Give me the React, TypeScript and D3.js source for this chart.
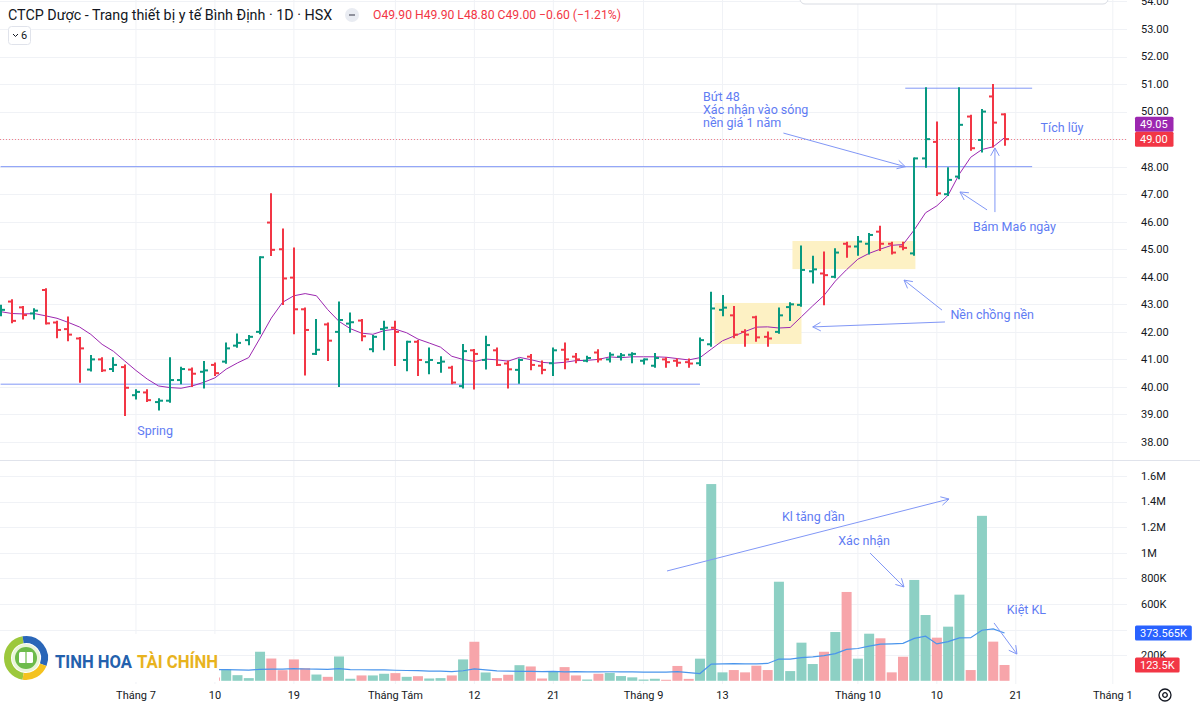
import React from "react";
import * as d3 from "d3";

// ---------- DATA ----------
const opens = [42.7, 43.1, 42.89, 42.67, 43.52, 42.34, 42.1, 41.76, 40.63, 41.0, 40.65, 40.72, 39.7, 39.8, 39.45, 39.5, 40.25, 40.63, 40.55, 40.8,
  40.92, 41.5, 41.7, 42.0, 45.97, 45.0, 43.97, 42.82, 41.2, 42.27, 42.0, 42.3, 42.41, 41.37, 42.1, 42.15, 40.98, 41.64, 40.9, 40.87,
  40.7, 40.03, 41.33, 40.98, 41.33, 40.85, 40.62, 41.1, 40.77, 40.86, 41.35, 41.1, 40.95, 41.25, 41.0, 41.1, 41.17, 40.95, 40.77, 41.0,
  40.95, 40.9, 40.86, 41.55, 42.8, 42.6, 42.0, 42.53, 41.82, 42.0, 42.9, 42.98, 44.2, 44.12, 44.0, 45.2, 45.1, 45.2, 45.64, 45.2,
  45.1, 44.85, 48.3, 48.9, 47.0, 47.64, 49.82, 48.97, 50.55, 49.9];
const highs = [42.95, 43.15, 42.9, 42.82, 43.55, 42.37, 42.52, 41.78, 41.12, 41.04, 41.04, 40.78, 39.88, 39.88, 39.55, 41.04, 40.7, 40.67, 40.91, 40.85,
  41.58, 41.9, 41.85, 44.71, 47.0, 45.72, 45.03, 42.85, 42.43, 42.3, 43.07, 42.67, 42.43, 41.85, 42.37, 42.37, 41.64, 41.67, 41.4, 41.08,
  40.73, 41.52, 41.34, 41.82, 41.4, 40.92, 41.0, 41.16, 40.92, 41.4, 41.58, 41.2, 41.1, 41.33, 41.22, 41.2, 41.22, 41.0, 41.2, 41.04,
  41.0, 41.0, 41.76, 43.42, 43.3, 42.9, 42.06, 42.55, 41.98, 42.85, 43.04, 45.1, 44.73, 44.88, 45.0, 45.24, 45.45, 45.55, 45.82, 45.24,
  45.24, 48.3, 50.85, 49.6, 47.94, 50.85, 49.85, 50.06, 50.97, 49.9];
const lows = [42.6, 42.35, 42.49, 42.49, 42.3, 41.8, 41.7, 40.19, 40.6, 40.58, 40.58, 38.98, 39.58, 39.49, 39.18, 39.46, 40.13, 40.03, 39.98, 40.43,
  40.88, 41.46, 41.55, 41.95, 44.79, 43.01, 41.95, 40.45, 41.2, 40.98, 40.03, 42.0, 41.7, 41.3, 41.37, 40.8, 40.61, 40.43, 40.5, 40.55,
  40.13, 39.98, 39.94, 40.67, 40.8, 39.98, 40.15, 40.64, 40.5, 40.43, 40.68, 40.9, 40.93, 40.92, 40.92, 41.0, 40.9, 40.85, 40.73, 40.73,
  40.77, 40.73, 40.8, 41.5, 42.6, 41.8, 41.5, 41.68, 41.5, 41.97, 42.43, 42.95, 43.79, 43.0, 43.98, 44.73, 44.8, 44.85, 44.97, 44.85,
  45.0, 44.8, 48.0, 46.97, 46.97, 47.58, 48.61, 48.55, 48.73, 48.8];
const closes = [42.8, 42.4, 42.61, 42.77, 42.31, 42.07, 41.9, 41.4, 41.0, 40.6, 40.8, 39.97, 39.82, 39.52, 39.5, 40.25, 40.65, 40.48, 40.6, 40.5,
  41.4, 41.6, 41.82, 44.71, 44.98, 43.94, 42.82, 42.07, 41.35, 41.68, 42.43, 42.35, 41.84, 41.82, 42.15, 42.0, 41.64, 40.98, 40.98, 40.92,
  40.16, 41.3, 41.2, 41.52, 40.8, 40.64, 40.98, 40.8, 40.62, 41.33, 41.0, 41.0, 41.05, 41.0, 41.17, 41.15, 41.2, 41.0, 41.05, 40.9,
  40.88, 40.85, 41.7, 42.85, 42.88, 41.9, 41.9, 41.8, 41.76, 42.6, 43.0, 44.25, 44.27, 44.06, 44.88, 45.1, 45.28, 45.52, 45.2, 44.88,
  45.05, 48.3, 49.0, 47.03, 47.52, 49.52, 48.67, 50.0, 49.6, 49.0];
// closes before the first visible bar (needed only for the 6-day MA)
const priorCloses = [42.8, 42.7, 42.7, 42.8, 42.6];
// volume in thousands of shares (bars 0-18 sit under the logo)
const volumesK = [95, 80, 70, 110, 150, 85, 90, 140, 75, 60, 70, 180, 65, 55, 60, 120, 70, 65, 95, 26,
  91, 44, 21, 227, 174, 83, 167, 99, 49, 31, 190, 16, 42, 42, 55, 60, 31, 36, 18, 21,
  42, 167, 305, 65, 21, 47, 122, 112, 18, 75, 107, 42, 10, 55, 62, 37, 27, 10, 16, 8,
  116, 15, 173, 1537, 66, 84, 66, 118, 84, 774, 76, 298, 131, 227, 381, 694, 173, 368, 332, 66,
  188, 788, 514, 337, 423, 673, 84, 1288.8, 306, 123.5];

const priceTicks = [38, 39, 40, 41, 42, 43, 44, 45, 46, 47, 48, 49, 50, 51, 52, 53, 54];
// 400K is hidden behind the volume-MA label in the reference, so it is not listed
const volumeTicks = [200, 600, 800, 1000, 1200, 1400, 1600];
const volumeTickLabels = ["200K", "600K", "800K", "1M", "1.2M", "1.4M", "1.6M"];
const volumeGrid = [200, 400, 600, 800, 1000, 1200, 1400, 1600];
const dateLabels = ["Tháng 7", "10", "19", "Tháng Tám", "12", "21", "Tháng 9", "13", "Tháng 10", "10", "21", "Tháng 1"];
const dateLabelBar = [12, 19, 26, 35, 42, 49, 57, 64, 76, 83, 90, 98.6];

const title = "CTCP Dược - Trang thiết bị y tế Bình Định · 1D · HSX";

// drawn horizontal levels: [price, fromBar, toBar]
const levelPrices = [40.1, 48.0, 50.85];
const levelFrom = [0, 0, 80.2];
const levelTo = [62, 91.45, 91.45];

// highlighted zones: bar range and price range
const zoneBars = [[63.3, 71.0], [70.2, 81.1]];
const zonePrices = [[41.56, 43.05], [44.28, 45.3]];

const UP = "#089981";
const DOWN = "#f23645";
const UP_VOL = "#8dd0c4";
const DOWN_VOL = "#f7a5aa";
const ANN = "#5f7cf3";
const ANN_LINE = "#8197f6";
const FONT = "Roboto, 'Noto Sans', 'DejaVu Sans', sans-serif";

function Arrow({ x1, y1, x2, y2 }: { x1: number; y1: number; x2: number; y2: number }) {
  const a = Math.atan2(y2 - y1, x2 - x1);
  const L = 9;
  const s = 0.5;
  const p1 = [x2 - L * Math.cos(a - s), y2 - L * Math.sin(a - s)];
  const p2 = [x2 - L * Math.cos(a + s), y2 - L * Math.sin(a + s)];
  return (
    <g stroke={ANN_LINE} strokeWidth={1} fill="none">
      <line x1={x1} y1={y1} x2={x2} y2={y2} />
      <polyline points={`${p1[0]},${p1[1]} ${x2},${y2} ${p2[0]},${p2[1]}`} />
    </g>
  );
}

export default function App() {
  const W = 1200;
  const H = 704;
  const plotRight = 1127;
  const step = 11.28;
  const x = d3.scaleLinear().domain([0, 89]).range([0.6, 0.6 + 89 * step]);
  const yP = d3.scaleLinear().domain([38, 53]).range([442, 29]);
  const yV = d3.scaleLinear().domain([0, 1600]).range([680.8, 476]);

  const full = [...priorCloses, ...closes];
  const ma6 = closes.map((_, i) => d3.mean(full.slice(i, i + 6)) as number);
  const volMa = volumesK.map((_, i) => (i < 19 ? NaN : (d3.mean(volumesK.slice(i - 19, i + 1)) as number)));

  const maLine = d3.line<number>().x((_, i) => x(i)).y((d) => yP(d)).curve(d3.curveLinear)(ma6) || "";
  const volMaLine =
    d3
      .line<number>()
      .defined((d) => !isNaN(d))
      .x((_, i) => x(i))
      .y((d) => yV(d))(volMa) || "";

  const last = closes.length - 1;
  const lastClose = closes[last];
  const lastMa = ma6[last];
  const lastVol = volumesK[last];
  const lastVolMa = volMa[last];
  const lastUp = closes[last] >= opens[last];
  const chg = closes[last] - closes[last - 1];
  const chgPct = (chg / closes[last - 1]) * 100;
  const fmt = (v: number) => v.toFixed(2);
  const minus = (v: number) => (v < 0 ? "−" + Math.abs(v).toFixed(2) : "+" + v.toFixed(2));

  const barW = 10;
  const tick = 4;

  const gridColor = "#f0f2f6";

  const fmtK = (v: number) => {
    const s = v.toFixed(3).replace(/0+$/, "").replace(/\.$/, "");
    return s + "K";
  };

  const axisX = 1141;

  const Label = ({ y, text, fill }: { y: number; text: string; fill: string }) => {
    const w = text.length * 6.1 + 8;
    return (
      <g>
        <rect x={1135} y={y - 7.5} width={w} height={15} fill={fill} rx={1.5} />
        <text x={1135 + 5} y={y} dy="0.35em" fill="#fff" fontSize={11} fontFamily={FONT}>
          {text}
        </text>
      </g>
    );
  };

  const P = (bar: number, price: number) => [x(bar), yP(price)];
  const V = (bar: number, vol: number) => [x(bar), yV(vol)];

  const priceArrows = [
    [P(69.4, 49.22), P(80.2, 48.0)],
    [P(87.45, 46.43), P(85.05, 47.08)],
    [P(88.15, 46.35), P(88.15, 48.68)],
    [P(83.72, 42.36), P(72.0, 42.18)],
    [P(83.46, 42.79), P(80.09, 43.88)],
  ];
  const volArrows = [
    [V(59.08, 858), V(84.08, 1420)],
    [V(77.08, 998), V(80.09, 733)],
    [V(88.07, 452), V(90.1, 209)],
  ];

  return (
    <svg
      width={W}
      height={H}
      viewBox={`0 0 ${W} ${H}`}
      style={{ position: "fixed", left: 0, top: 0, background: "#fff" }}
      fontFamily={FONT}
    >
      <defs>
        <clipPath id="pricePane">
          <rect x={0} y={0} width={plotRight} height={460} />
        </clipPath>
        <clipPath id="volPane">
          <rect x={0} y={461} width={plotRight} height={223} />
        </clipPath>
      </defs>
      <rect x={0} y={0} width={W} height={H} fill="#fff" />

      {/* vertical grid */}
      {dateLabelBar.map((b, i) => (
        <line key={"vg" + i} x1={x(b)} x2={x(b)} y1={0} y2={684} stroke={gridColor} strokeWidth={1} />
      ))}
      {/* horizontal price grid */}
      {priceTicks.map((p) => (
        <line key={"hg" + p} x1={0} x2={plotRight} y1={Math.round(yP(p)) + 0.5} y2={Math.round(yP(p)) + 0.5} stroke={gridColor} />
      ))}
      {volumeGrid.map((v) => (
        <line key={"vgv" + v} x1={0} x2={plotRight} y1={Math.round(yV(v)) + 0.5} y2={Math.round(yV(v)) + 0.5} stroke={gridColor} />
      ))}

      {/* pane separator */}
      <line x1={0} x2={W} y1={460.5} y2={460.5} stroke="#e0e3eb" strokeWidth={1} />

      {/* popup edge at top right */}
      <rect x={800} y={-20} width={308} height={24} rx={5} fill="#fff" stroke="#d9dce3" />

      <g clipPath="url(#pricePane)">
        {/* zones */}
        {zoneBars.map((zb, i) => (
          <rect
            key={"z" + i}
            x={x(zb[0])}
            y={yP(zonePrices[i][1])}
            width={x(zb[1]) - x(zb[0])}
            height={yP(zonePrices[i][0]) - yP(zonePrices[i][1])}
            fill="#fdf1c4"
          />
        ))}
        {/* levels */}
        {levelPrices.map((p, i) => (
          <line
            key={"lv" + i}
            x1={x(levelFrom[i])}
            x2={x(levelTo[i])}
            y1={yP(p)}
            y2={yP(p)}
            stroke={ANN_LINE}
            strokeWidth={1}
          />
        ))}
        {/* last price line */}
        <line
          x1={0}
          x2={plotRight}
          y1={Math.round(yP(lastClose)) + 0.5}
          y2={Math.round(yP(lastClose)) + 0.5}
          stroke={DOWN}
          strokeWidth={1}
          strokeDasharray="1 2"
          opacity={0.6}
        />
        {/* MA6 */}
        <path d={maLine} fill="none" stroke="#9c27b0" strokeWidth={1} />
        {/* OHLC bars */}
        {closes.map((c, i) => {
          const col = c >= opens[i] ? UP : DOWN;
          const cx = Math.round(x(i));
          return (
            <g key={"b" + i} stroke={col} strokeWidth={2}>
              <line x1={cx} x2={cx} y1={yP(highs[i]) - 1} y2={yP(lows[i]) + 1} />
              <line x1={cx - tick} x2={cx} y1={yP(opens[i])} y2={yP(opens[i])} />
              <line x1={cx} x2={cx + tick} y1={yP(c)} y2={yP(c)} />
            </g>
          );
        })}
        {/* annotations */}
        {priceArrows.map((a, i) => (
          <Arrow key={"pa" + i} x1={a[0][0]} y1={a[0][1]} x2={a[1][0]} y2={a[1][1]} />
        ))}
        <g fill={ANN} fontSize={12.5}>
          <text x={x(13.7)} y={yP(38.4)} dy="0.35em" textAnchor="middle">Spring</text>
          <text x={x(62.27)} y={yP(50.53)} dy="0.35em">Bứt 48</text>
          <text x={x(62.27)} y={yP(50.06)} dy="0.35em">Xác nhận vào sóng</text>
          <text x={x(62.27)} y={yP(49.59)} dy="0.35em">nền giá 1 năm</text>
          <text x={x(92.2)} y={yP(49.4)} dy="0.35em">Tích lũy</text>
          <text x={x(86.2)} y={yP(45.81)} dy="0.35em">Bám Ma6 ngày</text>
          <text x={x(84.2)} y={yP(42.61)} dy="0.35em">Nền chồng nền</text>
        </g>
      </g>

      <g clipPath="url(#volPane)">
        {volumesK.map((v, i) => (
          <rect
            key={"v" + i}
            x={x(i) - barW / 2}
            y={yV(v)}
            width={barW}
            height={yV(0) - yV(v)}
            fill={closes[i] >= opens[i] ? UP_VOL : DOWN_VOL}
          />
        ))}
        <path d={volMaLine} fill="none" stroke="#4a95ec" strokeWidth={1.2} />
        {volArrows.map((a, i) => (
          <Arrow key={"va" + i} x1={a[0][0]} y1={a[0][1]} x2={a[1][0]} y2={a[1][1]} />
        ))}
        <g fill={ANN} fontSize={12.5}>
          <text x={x(69.27)} y={yV(1280)} dy="0.35em">Kl tăng dần</text>
          <text x={x(74.26)} y={yV(1096)} dy="0.35em">Xác nhận</text>
          <text x={x(89.2)} y={yV(558)} dy="0.35em">Kiệt KL</text>
        </g>
      </g>

      {/* logo */}
      <rect x={0} y={634} width={219} height={48} fill="#fff" />
      <g transform="translate(26,658)">
        <path d={d3.arc()({ innerRadius: 15, outerRadius: 22, startAngle: -Math.PI * 0.95, endAngle: -Math.PI * 0.05 }) || ""} fill="#9cc83c" />
        <path d={d3.arc()({ innerRadius: 15, outerRadius: 22, startAngle: -Math.PI * 0.05, endAngle: Math.PI * 0.62 }) || ""} fill="#2a66b8" />
        <path d={d3.arc()({ innerRadius: 15, outerRadius: 22, startAngle: Math.PI * 0.62, endAngle: Math.PI * 1.05 }) || ""} fill="#f4c21f" />
        <circle r={14} fill="#eaf5d9" />
        <circle r={11} fill="#6dbb4a" />
        <rect x={-7} y={-6} width={14} height={11} rx={1.5} fill="#fff" />
        <line x1={0} x2={0} y1={-6} y2={5} stroke="#6dbb4a" strokeWidth={1.2} />
      </g>
      <text x={55} y={668} fontSize={19} fontWeight={700} fill="#2461ad" textLength={77} lengthAdjust="spacingAndGlyphs">
        TINH HOA
      </text>
      <text x={137} y={668} fontSize={19} fontWeight={700} fill="#e8b31e" textLength={81} lengthAdjust="spacingAndGlyphs">
        TÀI CHÍNH
      </text>

      {/* right price axis */}
      <g fontSize={11} fill="#131722">
        {priceTicks.map((p) => (
          <text key={"pt" + p} x={axisX} y={yP(p)} dy="0.35em">
            {p.toFixed(2)}
          </text>
        ))}
        {volumeTicks.map((v, i) => (
          <text key={"vt" + v} x={axisX} y={yV(v)} dy="0.35em">
            {volumeTickLabels[i]}
          </text>
        ))}
      </g>
      <Label y={yP(lastClose) - 15} text={fmt(lastMa)} fill="#9c27b0" />
      <Label y={yP(lastClose)} text={fmt(lastClose)} fill={lastUp ? UP : DOWN} />
      <Label y={yV(lastVolMa)} text={fmtK(lastVolMa)} fill="#2962ff" />
      <Label y={yV(lastVol)} text={fmtK(lastVol)} fill={lastUp ? UP : DOWN} />

      {/* time axis */}
      <g fontSize={11} fill="#131722">
        {dateLabels.map((d, i) => (
          <text key={"d" + i} x={x(dateLabelBar[i])} y={695} dy="0.35em" textAnchor="middle">
            {d}
          </text>
        ))}
      </g>
      <g transform="translate(1165,695)" fill="none" stroke="#131722" strokeWidth={1.3}>
        <circle r={6} />
        <circle r={2.3} />
      </g>

      {/* header */}
      <text x={8} y={15} dy="0.35em" fontSize={14.3} fill="#131722">
        {title}
      </text>
      <circle cx={352} cy={15} r={7} fill="#e9ecf2" />
      <line x1={349} x2={355} y1={15} y2={15} stroke="#787b86" strokeWidth={1.6} />
      <text x={373} y={15} dy="0.35em" fontSize={12.2} fill={DOWN}>
        {`O${fmt(opens[last])} H${fmt(highs[last])} L${fmt(lows[last])} C${fmt(closes[last])} ${minus(chg)} (${minus(chgPct)}%)`}
      </text>
      <rect x={8.5} y={26.5} width={22} height={18} rx={3} fill="#fff" stroke="#e0e3eb" />
      <polyline points="13,34 15.5,36.5 18,34" fill="none" stroke="#131722" strokeWidth={1} />
      <text x={21} y={35.5} dy="0.35em" fontSize={11} fill="#131722">6</text>
    </svg>
  );
}
